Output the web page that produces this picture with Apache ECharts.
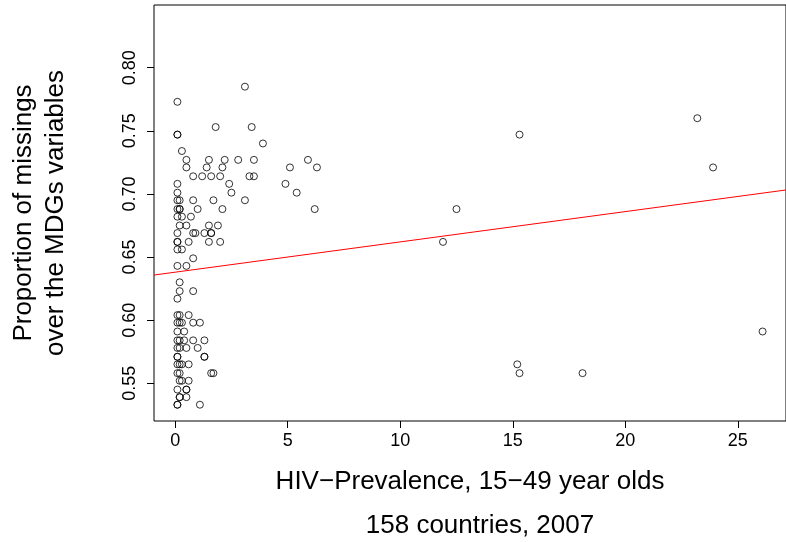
<!DOCTYPE html>
<html>
<head>
<meta charset="utf-8">
<script src="https://cdn.jsdelivr.net/npm/echarts@6/dist/echarts.min.js"></script>
<style>
  html, body { margin: 0; padding: 0; background: #fff; }
  #chart { width: 786px; height: 542px; }
</style>
</head>
<body>
<div id="chart"></div>
<script>
// HIV prevalence (x) vs proportion of missings (y)
const hivX = [
  3.1,
  0.1,
  1.8, 3.4,
  0.1, 0.1, 15.3,
  3.9,
  23.2,
  0.3,
  0.5, 1.5, 2.2, 2.8, 3.5, 5.9,
  0.5, 1.4, 2.1, 5.1, 6.3, 23.9,
  0.8, 1.2, 1.6, 2.0, 3.3, 3.5,
  0.1, 2.4, 4.9,
  0.1, 2.5, 5.4,
  0.1, 0.2, 0.8, 1.7, 3.1,
  0.1, 0.2, 0.2, 1.0, 2.1, 6.2, 12.5,
  0.1, 0.3, 0.7,
  0.2, 0.5, 1.5, 1.9,
  0.1, 0.8, 0.9, 1.3, 1.6, 1.6,
  0.1, 0.1, 0.6, 1.5, 2.0, 11.9,
  0.1, 0.3,
  0.8,
  0.1, 0.5,
  0.2,
  0.2, 0.8,
  0.1,
  0.1, 0.2, 0.6,
  0.1, 0.2, 0.3, 0.8, 1.1,
  0.1, 0.4, 26.1,
  0.1, 0.2, 0.4, 0.8, 1.3,
  0.1, 0.2, 0.5, 1.0,
  0.1, 0.1, 1.3, 1.3,
  0.1, 0.2, 0.3, 0.6, 15.2,
  0.1, 0.2, 1.6, 1.7, 15.3, 18.1,
  0.2, 0.3, 0.6,
  0.1, 0.5, 0.5,
  0.2, 0.2, 0.5,
  0.1, 0.1, 1.1
];
const missY = [
  0.785,
  0.773,
  0.753, 0.753,
  0.747, 0.747, 0.747,
  0.740,
  0.760,
  0.734,
  0.727, 0.727, 0.727, 0.727, 0.727, 0.727,
  0.721, 0.721, 0.721, 0.721, 0.721, 0.721,
  0.714, 0.714, 0.714, 0.714, 0.714, 0.714,
  0.708, 0.708, 0.708,
  0.701, 0.701, 0.701,
  0.695, 0.695, 0.695, 0.695, 0.695,
  0.688, 0.688, 0.688, 0.688, 0.688, 0.688, 0.688,
  0.682, 0.682, 0.682,
  0.675, 0.675, 0.675, 0.675,
  0.669, 0.669, 0.669, 0.669, 0.669, 0.669,
  0.662, 0.662, 0.662, 0.662, 0.662, 0.662,
  0.656, 0.656,
  0.649,
  0.643, 0.643,
  0.630,
  0.623, 0.623,
  0.617,
  0.604, 0.604, 0.604,
  0.598, 0.598, 0.598, 0.598, 0.598,
  0.591, 0.591, 0.591,
  0.584, 0.584, 0.584, 0.584, 0.584,
  0.578, 0.578, 0.578, 0.578,
  0.571, 0.571, 0.571, 0.571,
  0.565, 0.565, 0.565, 0.565, 0.565,
  0.558, 0.558, 0.558, 0.558, 0.558, 0.558,
  0.552, 0.552, 0.552,
  0.545, 0.545, 0.545,
  0.539, 0.539, 0.539,
  0.533, 0.533, 0.533
];
const xTicks = [0, 5, 10, 15, 20, 25];
const yTicks = [0.55, 0.60, 0.65, 0.70, 0.75, 0.80];

// fitted regression line
const fitIntercept = 0.638;
const fitSlope = 0.0024;
const fitX = [-0.94, 27.14];

const FONT = '"Liberation Sans", Arial, Helvetica, sans-serif';

const points = hivX.map((x, i) => [x, missY[i]]);
const fitLine = fitX.map(x => [x, fitIntercept + fitSlope * x]);

const chart = echarts.init(document.getElementById('chart'));
chart.setOption({
  animation: false,
  backgroundColor: '#fff',
  title: {
    text: '158 countries, 2007',
    left: 475,
    top: 508,
    textAlign: 'center',
    textStyle: { fontFamily: FONT, fontSize: 26, fontWeight: 'normal', color: '#000' }
  },
  grid: {
    left: 152, top: 5, width: 643, height: 416,
    show: true, borderColor: '#000', borderWidth: 1, backgroundColor: 'transparent'
  },
  xAxis: {
    type: 'value',
    min: -0.94, max: 27.14,
    name: 'HIV\u2212Prevalence, 15\u221249 year olds',
    nameLocation: 'middle',
    nameGap: 48,
    nameTextStyle: { fontFamily: FONT, fontSize: 26, color: '#000' },
    axisLine: { show: false, onZero: false },
    splitLine: { show: false },
    axisTick: { show: true, length: 7, lineStyle: { color: '#000' }, customValues: xTicks },
    axisLabel: { fontFamily: FONT, fontSize: 18, color: '#000', margin: 11, customValues: xTicks }
  },
  yAxis: {
    type: 'value',
    min: 0.5201, max: 0.8497,
    name: 'Proportion of missings\nover the MDGs variables',
    nameLocation: 'middle',
    nameGap: 82,
    nameTextStyle: { fontFamily: FONT, fontSize: 26, color: '#000', lineHeight: 32 },
    axisLine: { show: false, onZero: false },
    splitLine: { show: false },
    axisTick: { show: true, length: 7, lineStyle: { color: '#000' }, customValues: yTicks },
    axisLabel: {
      fontFamily: FONT, fontSize: 18, color: '#000', margin: 15, rotate: 90,
      customValues: yTicks,
      formatter: v => v.toFixed(2)
    }
  },
  series: [
    {
      type: 'scatter',
      data: points,
      symbol: 'circle',
      symbolSize: 7,
      itemStyle: { color: 'rgba(0,0,0,0)', borderColor: '#000', borderWidth: 1 },
      z: 3
    },
    {
      type: 'line',
      data: fitLine,
      symbol: 'none',
      lineStyle: { color: '#ff0000', width: 1 },
      z: 2
    }
  ]
});
</script>
</body>
</html>
